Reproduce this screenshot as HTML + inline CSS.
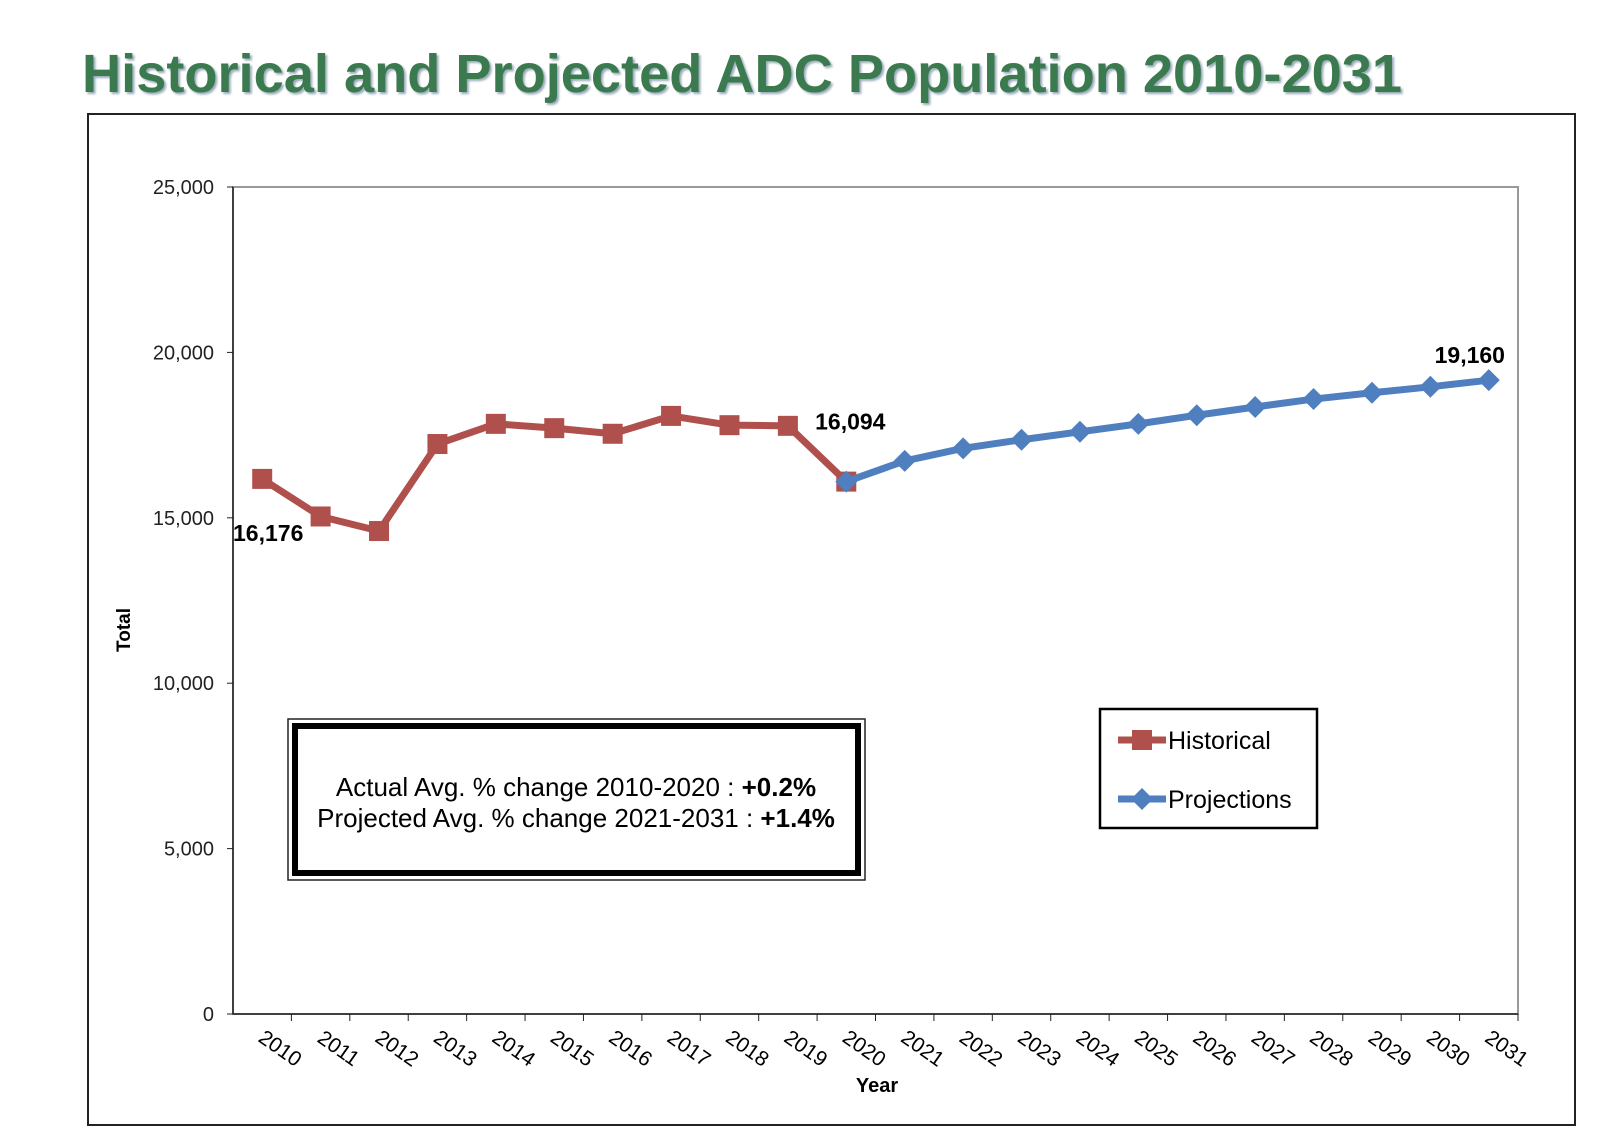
<!DOCTYPE html>
<html><head><meta charset="utf-8"><style>
body{margin:0;background:#fff;width:1600px;height:1136px;overflow:hidden;font-family:"Liberation Sans",Arial,sans-serif}
</style></head><body>
<svg width="1600" height="1136" style="position:absolute;left:0;top:0">
<text x="82" y="92" font-family="Liberation Sans, sans-serif" font-weight="bold" font-size="54" fill="#3b7a4e" textLength="1320" lengthAdjust="spacingAndGlyphs" style="text-shadow:2px 2px 2px #9ab">Historical and Projected ADC Population 2010-2031</text>
<rect x="88" y="114" width="1487" height="1011" fill="none" stroke="#222" stroke-width="2"/>
<g id="plot"></g>
<text transform="translate(130,630) rotate(-90)" text-anchor="middle" font-weight="bold" font-size="19">Total</text>
<text x="877" y="1092" text-anchor="middle" font-weight="bold" font-size="20">Year</text>
<g>
<rect x="288" y="719" width="577" height="161" fill="#fff" stroke="#222" stroke-width="1.5"/>
<rect x="295" y="726" width="563" height="147" fill="none" stroke="#000" stroke-width="6"/>
<text x="576" y="796" text-anchor="middle" font-size="26">Actual Avg. % change 2010-2020 : <tspan font-weight="bold">+0.2%</tspan></text>
<text x="576" y="827" text-anchor="middle" font-size="26">Projected Avg. % change 2021-2031 : <tspan font-weight="bold">+1.4%</tspan></text>
</g>
<g>
<rect x="1100" y="709" width="217" height="119" fill="#fff" stroke="#000" stroke-width="2.5"/>
<g>
<line x1="1118" y1="740" x2="1166" y2="740" stroke="#b0504d" stroke-width="7"/>
<rect x="1132" y="730" width="20" height="20" fill="#b0504d"/>
<text x="1168" y="749" font-size="25">Historical</text></g>
<g>
<line x1="1118" y1="799" x2="1166" y2="799" stroke="#4f7fbf" stroke-width="7"/>
<path d="M1142 788 L1153 799 L1142 810 L1131 799Z" fill="#4f7fbf"/>
<text x="1168" y="808" font-size="25">Projections</text></g>
</g>
</svg>
<script>
const years=["2010","2011","2012","2013","2014","2015","2016","2017","2018","2019","2020","2021","2022","2023","2024","2025","2026","2027","2028","2029","2030","2031"];
const historical=[16176,15040,14600,17230,17840,17710,17540,18080,17800,17780,16094];
const projections=[16094,16720,17100,17360,17600,17840,18100,18350,18590,18780,18960,19160];
const yTicks=[0,5000,10000,15000,20000,25000];
const labels=[{i:0,v:16176,t:"16,176",dx:6,dy:62},{i:10,v:16094,t:"16,094",dx:4,dy:-52},{i:21,v:19160,t:"19,160",dx:-19,dy:-17}];
const L=233,R=1518,T=187,B=1014;
const xs=i=>L+(R-L)/years.length*(i+0.5);
const ys=v=>B-(v/25000)*(B-T);
const NS="http://www.w3.org/2000/svg";
const g=document.getElementById('plot');
function mk(tag,a,p){const e=document.createElementNS(NS,tag);for(const k in a)e.setAttribute(k,a[k]);(p||g).appendChild(e);return e;}
let e=mk('rect',{x:L,y:T,width:R-L,height:B-T,fill:'none',stroke:'#999','stroke-width':2});


e=mk('line',{x1:L,y1:T,x2:L,y2:B,stroke:'#222','stroke-width':1.5});


e=mk('line',{x1:L,y1:B,x2:R,y2:B,stroke:'#222','stroke-width':1.5});


yTicks.forEach(v=>{
 mk('line',{x1:L-6,y1:ys(v),x2:L,y2:ys(v),stroke:'#222'});
 e=mk('text',{x:L-19,y:ys(v)+7,'text-anchor':'end','font-size':20,fill:'#222'});
 e.textContent=v.toLocaleString('en-US');
 
 
});
years.forEach((y,i)=>{
 const bx=L+(R-L)/years.length*(i+1);
 mk('line',{x1:bx,y1:B,x2:bx,y2:B+7,stroke:'#222'});
 const cx=xs(i)+14,cy=B+40;
 e=mk('text',{x:cx,y:cy,'text-anchor':'middle','font-size':21,transform:`rotate(35 ${cx} ${cy})`});
 e.textContent=y;
 
 
});
e=mk('polyline',{points:historical.map((v,i)=>xs(i)+','+ys(v)).join(' '),fill:'none',stroke:'#b0504d','stroke-width':7,'stroke-linejoin':'round'});


historical.forEach((v,i)=>{
 e=mk('rect',{x:xs(i)-10,y:ys(v)-10,width:20,height:20,fill:'#b0504d'});
 
 
});
const off=10;
e=mk('polyline',{points:projections.map((v,i)=>xs(i+off)+','+ys(v)).join(' '),fill:'none',stroke:'#4f7fbf','stroke-width':7,'stroke-linejoin':'round'});


projections.forEach((v,i)=>{
 const x=xs(i+off),y=ys(v);
 e=mk('path',{d:`M${x} ${y-11} L${x+11} ${y} L${x} ${y+11} L${x-11} ${y}Z`,fill:'#4f7fbf'});
 
 
});
labels.forEach(l=>{
 e=mk('text',{x:xs(l.i)+l.dx,y:ys(l.v)+l.dy,'text-anchor':'middle','font-size':23,'font-weight':'bold'});
 e.textContent=l.t;
 
 
});
</script>
</body></html>
